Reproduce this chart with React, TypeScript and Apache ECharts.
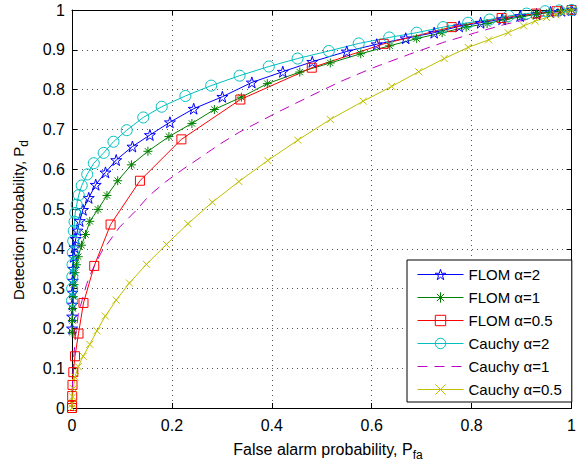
import React, { useEffect, useRef } from "react";
import * as echarts from "echarts";

const FONT = '"Liberation Sans", Arial, Helvetica, sans-serif';

// ROC curves: [false alarm probability, detection probability]
const flomA2: number[][] = [
  [0.0001, 0.2], [0.0003, 0.23], [0.0006, 0.26], [0.001, 0.29], [0.0016, 0.32], [0.0025, 0.35],
  [0.0035, 0.38], [0.005, 0.404], [0.0075, 0.425], [0.011, 0.446], [0.0155, 0.47], [0.022, 0.498],
  [0.0335, 0.528], [0.0475, 0.561], [0.067, 0.592], [0.0885, 0.623], [0.121, 0.657], [0.156, 0.686],
  [0.196, 0.718], [0.2436, 0.752], [0.301, 0.782], [0.36, 0.818], [0.422, 0.845], [0.481, 0.87],
  [0.55, 0.896], [0.61, 0.914], [0.668, 0.929], [0.725, 0.943], [0.775, 0.959], [0.818, 0.968],
  [0.861, 0.977], [0.897, 0.985], [0.93, 0.99], [0.958, 0.995], [0.98, 0.998], [1, 1],
];
const flomA1: number[][] = [
  [0.0003, 0.19], [0.0008, 0.22], [0.0015, 0.25], [0.0025, 0.28], [0.004, 0.31], [0.006, 0.34],
  [0.009, 0.36], [0.0125, 0.38], [0.019, 0.409], [0.027, 0.436], [0.0356, 0.469], [0.052, 0.499],
  [0.07, 0.534], [0.0915, 0.571], [0.119, 0.611], [0.152, 0.645], [0.194, 0.682], [0.24, 0.715],
  [0.285, 0.75], [0.339, 0.781], [0.391, 0.815], [0.456, 0.844], [0.517, 0.867], [0.578, 0.89],
  [0.636, 0.91], [0.69, 0.928], [0.741, 0.943], [0.789, 0.957], [0.831, 0.966], [0.867, 0.976],
  [0.9, 0.983], [0.93, 0.989], [0.955, 0.994], [0.978, 0.997], [1, 1],
];
const flomA05: number[][] = [
  [0, 0], [0.0002, 0.005], [0.0004, 0.03], [0.001, 0.058], [0.0026, 0.09], [0.006, 0.13],
  [0.013, 0.187], [0.023, 0.264], [0.0445, 0.357], [0.0772, 0.461], [0.136, 0.571], [0.219, 0.675],
  [0.337, 0.775], [0.48, 0.855], [0.624, 0.915], [0.76, 0.957], [0.86, 0.98], [0.929, 0.991],
  [0.97, 0.997], [1, 1],
];
const cauchyA2: number[][] = [
  [0.0001, 0.27], [0.0003, 0.3], [0.0006, 0.33], [0.001, 0.36], [0.0016, 0.39], [0.0025, 0.42],
  [0.0035, 0.445], [0.005, 0.468], [0.0065, 0.49], [0.0093, 0.511], [0.0135, 0.535], [0.0195, 0.559],
  [0.0304, 0.587], [0.0436, 0.615], [0.0634, 0.641], [0.083, 0.669], [0.1096, 0.698], [0.1426, 0.73],
  [0.1796, 0.757], [0.227, 0.784], [0.2786, 0.81], [0.3355, 0.835], [0.394, 0.858], [0.4515, 0.878],
  [0.514, 0.897], [0.574, 0.916], [0.635, 0.931], [0.69, 0.943], [0.743, 0.957], [0.793, 0.968],
  [0.836, 0.976], [0.874, 0.985], [0.91, 0.991], [0.947, 0.997], [0.975, 0.999], [1, 1],
];
const cauchyA1: number[][] = [
  [0, 0], [0.001, 0.06], [0.003, 0.12], [0.007, 0.18], [0.0125, 0.235], [0.02, 0.27], [0.029, 0.31],
  [0.04, 0.345], [0.059, 0.392], [0.095, 0.454], [0.128, 0.496], [0.154, 0.533], [0.187, 0.568],
  [0.22, 0.598], [0.26, 0.632], [0.296, 0.663], [0.335, 0.693], [0.405, 0.739], [0.471, 0.78],
  [0.537, 0.82], [0.603, 0.855], [0.676, 0.889], [0.742, 0.918], [0.808, 0.943], [0.867, 0.964],
  [0.927, 0.981], [0.97, 0.993], [1, 1],
];
const cauchyA05: number[][] = [
  [0, 0], [0.0005, 0.01], [0.0013, 0.028], [0.0026, 0.049], [0.006, 0.078], [0.0125, 0.104],
  [0.0224, 0.13], [0.0356, 0.16], [0.05, 0.194], [0.0667, 0.231], [0.0884, 0.271], [0.115, 0.314],
  [0.149, 0.361], [0.189, 0.411], [0.232, 0.463], [0.281, 0.517], [0.334, 0.569], [0.392, 0.622],
  [0.452, 0.673], [0.517, 0.725], [0.583, 0.771], [0.64, 0.808], [0.694, 0.845], [0.745, 0.878],
  [0.793, 0.906], [0.834, 0.925], [0.873, 0.943], [0.904, 0.96], [0.927, 0.972], [0.95, 0.981],
  [0.968, 0.988], [0.982, 0.994], [0.992, 0.998], [1, 1],
];

const seriesNames = ["FLOM α=2", "FLOM α=1", "FLOM α=0.5", "Cauchy α=2", "Cauchy α=1", "Cauchy α=0.5"];
const seriesColors = ["#0000FF", "#008000", "#FF0000", "#00BFBF", "#BF00BF", "#BFBF00"];

const STAR =
  "path://M10,0L12.245,6.91L19.511,6.91L13.633,11.18L15.878,18.09L10,13.82L4.122,18.09L6.367,11.18L0.489,6.91L7.755,6.91Z";
const ASTERISK = "path://M5,0L5,10M0,5L10,5M1.5,1.5L8.5,8.5M8.5,1.5L1.5,8.5";
const XMARK = "path://M0,0L10,10M10,0L0,10";

function lineSeries(name: string, data: number[][], color: string, symbol: string, size: number, dashed = false) {
  return {
    type: "line",
    name,
    data,
    clip: false,
    silent: true,
    symbol,
    symbolSize: size,
    showSymbol: symbol !== "none",
    showAllSymbol: true,
    lineStyle: { color, width: 1, type: dashed ? [10, 7] : "solid" },
    itemStyle: {
      color: "rgba(0,0,0,0)",
      borderColor: symbol === "none" ? "rgba(0,0,0,0)" : color,
      borderWidth: symbol === "none" ? 0 : 1,
    },
    emphasis: { disabled: true },
  };
}

export default function App() {
  const ref = useRef<HTMLDivElement>(null);
  useEffect(() => {
    if (!ref.current) return;
    const chart = echarts.init(ref.current, undefined, { renderer: "svg" });
    const axisLine = { show: true, onZero: false, lineStyle: { color: "#000", width: 1 } };
    const tick = { show: true, inside: true, length: 5, lineStyle: { color: "#000", width: 1 } };
    const grid = { show: true, lineStyle: { type: [1, 4], color: "#555", width: 1 } };
    const label = { fontSize: 16, color: "#000", fontFamily: FONT };
    chart.setOption({
      animation: false,
      backgroundColor: "#fff",
      grid: { left: 72, right: 2, top: 10, bottom: 54, containLabel: false },
      xAxis: [
        { type: "value", min: 0, max: 1, interval: 0.2, position: "bottom", axisLine, axisTick: tick,
          axisLabel: { ...label, margin: 9 }, splitLine: grid },
        { type: "value", min: 0, max: 1, interval: 0.2, position: "top", axisLine, axisTick: tick,
          axisLabel: { show: false }, splitLine: { show: false } },
      ],
      yAxis: [
        { type: "value", min: 0, max: 1, interval: 0.1, position: "left", axisLine, axisTick: tick,
          axisLabel: { ...label, margin: 7 }, splitLine: grid },
        { type: "value", min: 0, max: 1, interval: 0.1, position: "right", axisLine, axisTick: tick,
          axisLabel: { show: false }, splitLine: { show: false } },
      ],
      legend: {
        orient: "vertical",
        left: 407,
        top: 260,
        itemWidth: 46,
        itemHeight: 13,
        itemGap: 8,
        padding: [7, 10, 5, 10],
        borderColor: "#000",
        borderWidth: 1,
        backgroundColor: "#fff",
        textStyle: { fontSize: 15, color: "#000", fontFamily: FONT },
        itemStyle: { borderWidth: 1 },
        lineStyle: { width: 1 },
        data: seriesNames,
        selectedMode: false,
      },
      graphic: [
        {
          type: "text",
          x: 328,
          y: 449.5,
          silent: true,
          style: {
            text: "{m|False alarm probability, P}{s|fa}",
            align: "center",
            verticalAlign: "middle",
            fill: "#000",
            rich: {
              m: { fontSize: 16, lineHeight: 16, fontFamily: FONT, verticalAlign: "top", fill: "#000" },
              s: { fontSize: 12, lineHeight: 12, padding: [7, 0, 0, 0], fontFamily: FONT, verticalAlign: "top", fill: "#000" },
            },
          },
        },
        {
          type: "text",
          x: 18.5,
          y: 220,
          rotation: Math.PI / 2,
          silent: true,
          style: {
            text: "{m|Detection probability, P}{s|d}",
            align: "center",
            verticalAlign: "middle",
            fill: "#000",
            rich: {
              m: { fontSize: 15, lineHeight: 15, fontFamily: FONT, verticalAlign: "top", fill: "#000" },
              s: { fontSize: 12, lineHeight: 12, padding: [7, 0, 0, 0], fontFamily: FONT, verticalAlign: "top", fill: "#000" },
            },
          },
        },
      ],
      series: [
        lineSeries(seriesNames[0], flomA2, seriesColors[0], STAR, 11),
        lineSeries(seriesNames[1], flomA1, seriesColors[1], ASTERISK, 9),
        lineSeries(seriesNames[2], flomA05, seriesColors[2], "rect", 9),
        lineSeries(seriesNames[3], cauchyA2, seriesColors[3], "circle", 11),
        lineSeries(seriesNames[4], cauchyA1, seriesColors[4], "none", 0, true),
        lineSeries(seriesNames[5], cauchyA05, seriesColors[5], XMARK, 7),
      ],
    });
    return () => chart.dispose();
  }, []);
  return <div ref={ref} style={{ position: "absolute", left: 0, top: 0, width: 579, height: 462 }} />;
}
